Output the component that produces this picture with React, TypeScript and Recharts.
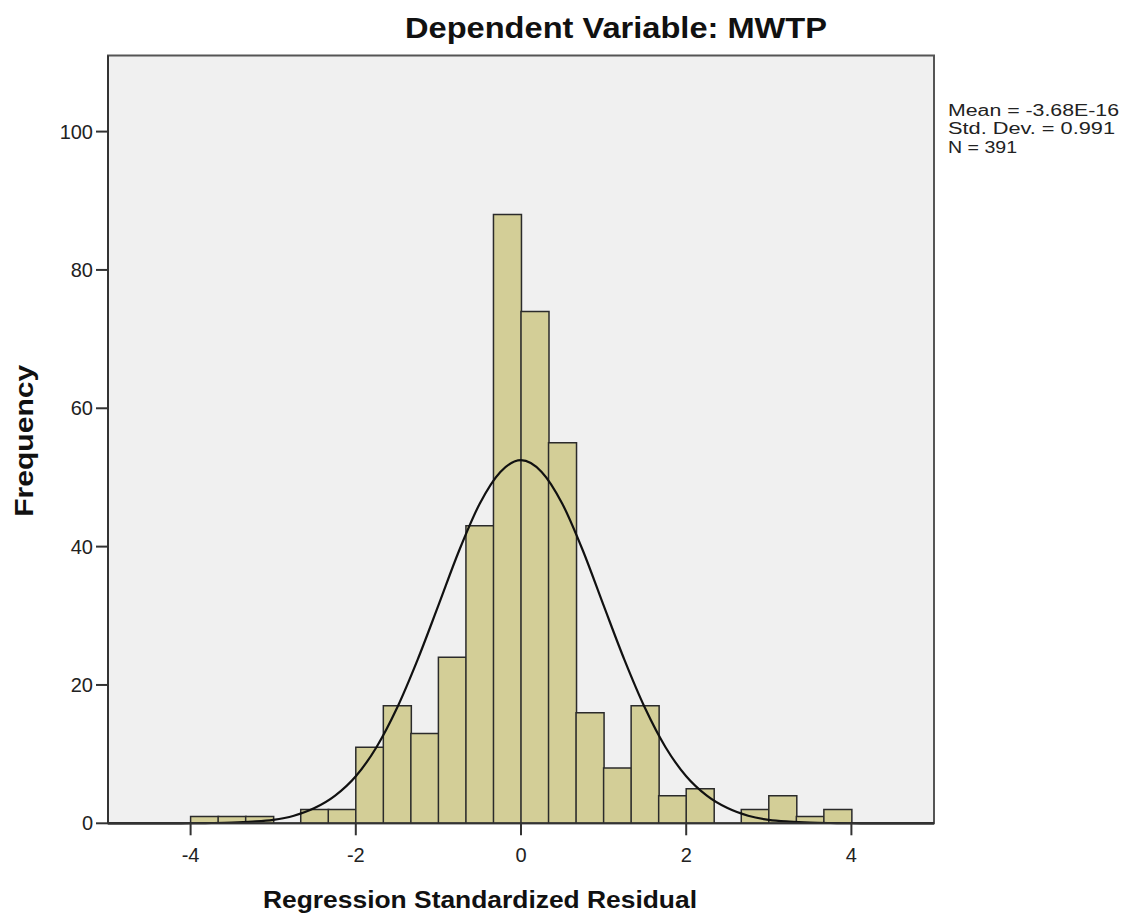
import { ComposedChart, Bar, Line, XAxis, YAxis, ReferenceArea } from "recharts";

// histogram bins, width 1/3, from -5 to 5
const binStarts = [
  -5, -4.667, -4.333, -4, -3.667, -3.333, -3, -2.667, -2.333, -2,
  -1.667, -1.333, -1, -0.667, -0.333, 0, 0.333, 0.667, 1, 1.333,
  1.667, 2, 2.333, 2.667, 3, 3.333, 3.667, 4, 4.333, 4.667,
];
const binCounts = [
  0, 0, 0, 1, 1, 1, 0, 2, 2, 11,
  17, 13, 24, 43, 88, 74, 55, 16, 8, 17,
  4, 5, 0, 2, 4, 1, 2, 0, 0, 0,
];

// normal curve
const curveX = [
  -5, -4.75, -4.5, -4.25, -4, -3.75, -3.5, -3.25, -3, -2.75, -2.5, -2.25, -2, -1.75,
  -1.5, -1.25, -1, -0.75, -0.5, -0.25, 0, 0.25, 0.5, 0.75, 1, 1.25, 1.5, 1.75, 2,
  2.25, 2.5, 2.75, 3, 3.25, 3.5, 3.75, 4, 4.25, 4.5, 4.75, 5,
];
const curveY = [
  0, 0, 0, 0, 0.01, 0.04, 0.1, 0.24, 0.5, 1.1, 2.2, 4.0, 6.8, 11.0,
  16.7, 23.7, 31.5, 39.4, 46.2, 50.8, 52.5, 50.8, 46.2, 39.4, 31.5, 23.7, 16.7, 11.0, 6.8,
  4.0, 2.2, 1.1, 0.5, 0.24, 0.1, 0.04, 0.01, 0, 0, 0, 0,
];

const xTicks = [-4, -2, 0, 2, 4];
const yTicks = [0, 20, 40, 60, 80, 100];
const statsLines = ["Mean = -3.68E-16", "Std. Dev. = 0.991", "N = 391"];
const statsWidths = [171, 167, 69];

const FONT = "'Liberation Sans', Arial, sans-serif";
const W = 1128;
const H = 918;

export default function App() {
  const bins = binStarts.map((b, i) => ({ bin: b.toFixed(2), count: binCounts[i] }));
  const curve = curveX.map((x, i) => ({ x, y: curveY[i] }));

  return (
    // pull over the body margin so the chart uses page coordinates
    <div style={{ position: "relative", width: W, height: H, margin: "-8px 0 0 -8px", fontFamily: FONT }}>
      <ComposedChart
        width={W}
        height={H}
        data={bins}
        margin={{ top: 55.5, right: 194, bottom: 54.7, left: 8 }}
        barCategoryGap={0}
        barGap={0}
      >
        <XAxis
          xAxisId="z"
          dataKey="x"
          type="number"
          domain={[-5, 5]}
          ticks={xTicks}
          allowDataOverflow
          height={40}
          tickSize={12}
          tickMargin={12}
          axisLine={{ stroke: "#333", strokeWidth: 2 }}
          tickLine={{ stroke: "#333", strokeWidth: 2 }}
          tick={{ fill: "#222", fontSize: 20, fontFamily: FONT }}
        />
        <XAxis xAxisId="bin" dataKey="bin" type="category" hide height={0} />
        <YAxis
          domain={[0, 111]}
          ticks={yTicks}
          width={100}
          tickSize={12}
          tickMargin={3}
          axisLine={{ stroke: "#333", strokeWidth: 2 }}
          tickLine={{ stroke: "#333", strokeWidth: 2 }}
          tick={{ fill: "#222", fontSize: 20, fontFamily: FONT }}
        />
        <ReferenceArea
          xAxisId="z"
          x1={-5}
          x2={5}
          y1={0}
          y2={111}
          fill="#f0f0f0"
          fillOpacity={1}
          stroke="#555"
          strokeWidth={2}
        />
        <Bar
          xAxisId="bin"
          dataKey="count"
          fill="#d3ce97"
          stroke="#2b2b2b"
          strokeWidth={1.5}
          isAnimationActive={false}
        />
        <Line
          xAxisId="z"
          data={curve}
          dataKey="y"
          type="monotone"
          stroke="#111"
          strokeWidth={2.2}
          dot={false}
          activeDot={false}
          isAnimationActive={false}
        />
      </ComposedChart>

      <svg
        width={W}
        height={H}
        style={{ position: "absolute", left: 0, top: 0, pointerEvents: "none" }}
      >
        <text
          x={405}
          y={37.5}
          fontSize={29}
          fontWeight="bold"
          fill="#111"
          fontFamily={FONT}
          textLength={422}
          lengthAdjust="spacingAndGlyphs"
        >
          Dependent Variable: MWTP
        </text>
        {statsLines.map((s, i) => (
          <text
            key={s}
            x={948}
            y={116 + i * 18.4}
            fontSize={16}
            fill="#222"
            fontFamily={FONT}
            textLength={statsWidths[i]}
            lengthAdjust="spacingAndGlyphs"
          >
            {s}
          </text>
        ))}
        <text
          x={263}
          y={908}
          fontSize={23}
          fontWeight="bold"
          fill="#111"
          fontFamily={FONT}
          textLength={434}
          lengthAdjust="spacingAndGlyphs"
        >
          Regression Standardized Residual
        </text>
        <text
          transform="translate(33,440.8) rotate(-90)"
          textAnchor="middle"
          fontSize={25}
          fontWeight="bold"
          fill="#111"
          fontFamily={FONT}
          textLength={152}
          lengthAdjust="spacingAndGlyphs"
        >
          Frequency
        </text>
      </svg>
    </div>
  );
}
